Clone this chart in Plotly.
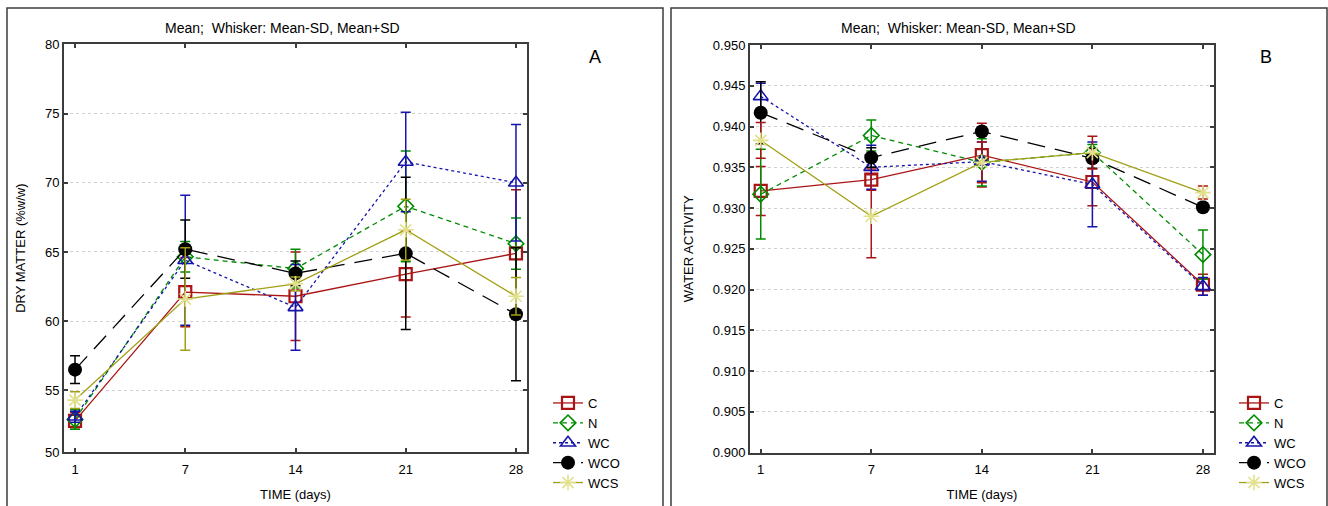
import plotly.graph_objects as go

W, H = 1328, 506

days = ["1", "7", "14", "21", "28"]
series = ["C", "N", "WC", "WCO", "WCS"]

# Panel A: dry matter (%w/w), mean and SD
dm_C = [52.8, 62.1, 61.8, 63.4, 64.9]
dm_C_sd = [0.6, 2.5, 3.2, 3.1, 4.6]
dm_N = [52.9, 64.65, 63.8, 68.3, 65.6]
dm_N_sd = [0.7, 1.1, 1.4, 4.0, 1.85]
dm_WC = [53.1, 64.4, 61.0, 71.5, 70.0]
dm_WC_sd = [0.4, 4.7, 3.1, 3.6, 4.2]
dm_WCO = [56.5, 65.2, 63.45, 64.9, 60.5]
dm_WCO_sd = [1.0, 2.1, 0.9, 5.5, 4.8]
dm_WCS = [54.3, 61.6, 62.7, 66.6, 61.8]
dm_WCS_sd = [0.6, 3.7, 0.5, 2.2, 1.35]

# Panel B: water activity, mean and SD
aw_C = [0.9321, 0.9335, 0.9365, 0.9332, 0.9206]
aw_C_sd = [0.0030, 0.0013, 0.0039, 0.0029, 0.0013]
aw_N = [0.9317, 0.9389, 0.9356, 0.9368, 0.9243]
aw_N_sd = [0.0055, 0.0019, 0.0029, 0.0010, 0.0030]
aw_WC = [0.9437, 0.9350, 0.9357, 0.9329, 0.9204]
aw_WC_sd = [0.0016, 0.0027, 0.0024, 0.0052, 0.0011]
aw_WCO = [0.9417, 0.9362, 0.9394, 0.9361, 0.9301]
aw_WCO_sd = [0.0038, 0.0012, 0.0005, 0.0012, 0.0005]
aw_WCS = [0.9383, 0.9290, 0.9356, 0.9368, 0.9319]
aw_WCS_sd = [0.0022, 0.0051, 0.0025, 0.0020, 0.0008]

dm_ticks = [50.55, 55, 60, 65, 70, 75, 80]
dm_ticktext = ["50", "55", "60", "65", "70", "75", "80"]
aw_ticks = [0.900, 0.905, 0.910, 0.915, 0.920, 0.925, 0.930, 0.935, 0.940, 0.945, 0.950]
aw_ticktext = ["%.3f" % v for v in aw_ticks]

RED = "rgb(170,20,20)"
GREEN = "rgb(0,140,0)"
BLUE = "rgb(20,20,170)"
BLACK = "rgb(0,0,0)"
OLIVE = "rgb(160,160,20)"
PALE = "rgb(225,225,140)"

style = {
    "C": dict(color=RED, dash="solid", symbol="square-open", msize=12, mcolor=RED, mline=2.2),
    "N": dict(color=GREEN, dash="5px,4px", symbol="diamond-open", msize=12, mcolor=GREEN, mline=1.6),
    "WC": dict(color=BLUE, dash="dot", symbol="triangle-up-open", msize=13, mcolor=BLUE, mline=1.6),
    "WCO": dict(color=BLACK, dash="18px,10px", symbol="circle", msize=14, mcolor=BLACK, mline=0),
    "WCS": dict(color=OLIVE, dash="solid", symbol="asterisk-open", msize=13, mcolor=PALE, mline=1.6),
}

FONT = "Liberation Sans, Arial, sans-serif"
fig = go.Figure()

dm = {"C": (dm_C, dm_C_sd), "N": (dm_N, dm_N_sd), "WC": (dm_WC, dm_WC_sd),
      "WCO": (dm_WCO, dm_WCO_sd), "WCS": (dm_WCS, dm_WCS_sd)}
aw = {"C": (aw_C, aw_C_sd), "N": (aw_N, aw_N_sd), "WC": (aw_WC, aw_WC_sd),
      "WCO": (aw_WCO, aw_WCO_sd), "WCS": (aw_WCS, aw_WCS_sd)}

for panel, data, xa, ya, leg in [("A", dm, "x", "y", "legend"), ("B", aw, "x2", "y2", "legend2")]:
    for s in series:
        st = style[s]
        vals, sds = data[s]
        ecol = st["color"]
        if panel == "B" and s == "WCS":
            ecol = RED
        fig.add_trace(go.Scatter(
            x=days, y=vals, name=s, xaxis=xa, yaxis=ya, legend=leg,
            mode="lines+markers",
            line=dict(color=st["color"], width=1.3, dash=st["dash"]),
            marker=dict(symbol=st["symbol"], size=st["msize"], color=st["mcolor"],
                        line=dict(color=st["mcolor"], width=st["mline"])),
            error_y=dict(type="data", array=sds, visible=True, color=ecol,
                         thickness=1.5, width=5),
        ))

def px_x(p):
    return p / W

def px_y(p):
    return 1 - p / H

axis_common = dict(
    showline=True, linecolor="rgb(60,60,60)", linewidth=2, mirror="ticks",
    ticks="inside", ticklen=4, tickcolor="rgb(60,60,60)", tickwidth=1.5,
    tickfont=dict(family=FONT, size=13, color="black"), zeroline=False,
    automargin=False,
)

fig.update_layout(
    width=W, height=H, margin=dict(l=0, r=0, t=0, b=0, pad=0), autosize=False,
    plot_bgcolor="white", paper_bgcolor="white",
    font=dict(family=FONT, size=13, color="black"),
    xaxis=dict(domain=[px_x(64), px_x(527)], anchor="y", type="category",
               range=[-0.1, 4.1], showgrid=False, ticklabelstandoff=4,
               title=dict(text="TIME (days)", font=dict(size=13), standoff=14), **axis_common),
    yaxis=dict(domain=[px_y(452), px_y(44.3)], anchor="x", range=[50.55, 80],
               tickvals=dm_ticks, ticktext=dm_ticktext,
               showgrid=True, gridcolor="rgb(210,210,210)", griddash="dot", gridwidth=1,
               title=dict(text="DRY MATTER (%w/w)", font=dict(size=13), standoff=16), **axis_common),
    xaxis2=dict(domain=[px_x(750), px_x(1214)], anchor="y2", type="category",
                range=[-0.097, 4.1], showgrid=False, ticklabelstandoff=4,
                title=dict(text="TIME (days)", font=dict(size=13), standoff=14), **axis_common),
    yaxis2=dict(domain=[px_y(452.7), px_y(45)], anchor="x2", range=[0.900, 0.950],
                tickvals=aw_ticks, ticktext=aw_ticktext,
                showgrid=True, gridcolor="rgb(210,210,210)", griddash="dot", gridwidth=1,
                title=dict(text="WATER ACTIVITY", font=dict(size=13), standoff=16), **axis_common),
    legend=dict(x=px_x(548), y=px_y(388), xanchor="left", yanchor="top",
                bgcolor="rgba(0,0,0,0)", font=dict(size=13), itemwidth=30,
                tracegroupgap=0),
    legend2=dict(x=px_x(1234), y=px_y(388), xanchor="left", yanchor="top",
                 bgcolor="rgba(0,0,0,0)", font=dict(size=13), itemwidth=30,
                 tracegroupgap=0),
    showlegend=True,
)

# panel frames
for x0, x1 in [(7, 663), (671, 1327)]:
    fig.add_shape(type="rect", xref="paper", yref="paper",
                  x0=px_x(x0), x1=px_x(x1), y0=-0.1, y1=px_y(8),
                  line=dict(color="rgb(60,60,60)", width=1.5), fillcolor="rgba(0,0,0,0)", layer="below")

title_txt = "Mean;  Whisker: Mean-SD, Mean+SD"
for cx, letter, lx in [(282, "A", 595), (958, "B", 1266)]:
    fig.add_annotation(text=title_txt, xref="paper", yref="paper", x=px_x(cx), y=px_y(28),
                       showarrow=False, font=dict(size=14), xanchor="center", yanchor="middle")
    fig.add_annotation(text=letter, xref="paper", yref="paper", x=px_x(lx), y=px_y(57),
                       showarrow=False, font=dict(size=18), xanchor="center", yanchor="middle")

fig.write_html("out.html", config={"displayModeBar": False},
               post_script="document.body.style.margin='0';document.body.style.overflow='hidden';")
